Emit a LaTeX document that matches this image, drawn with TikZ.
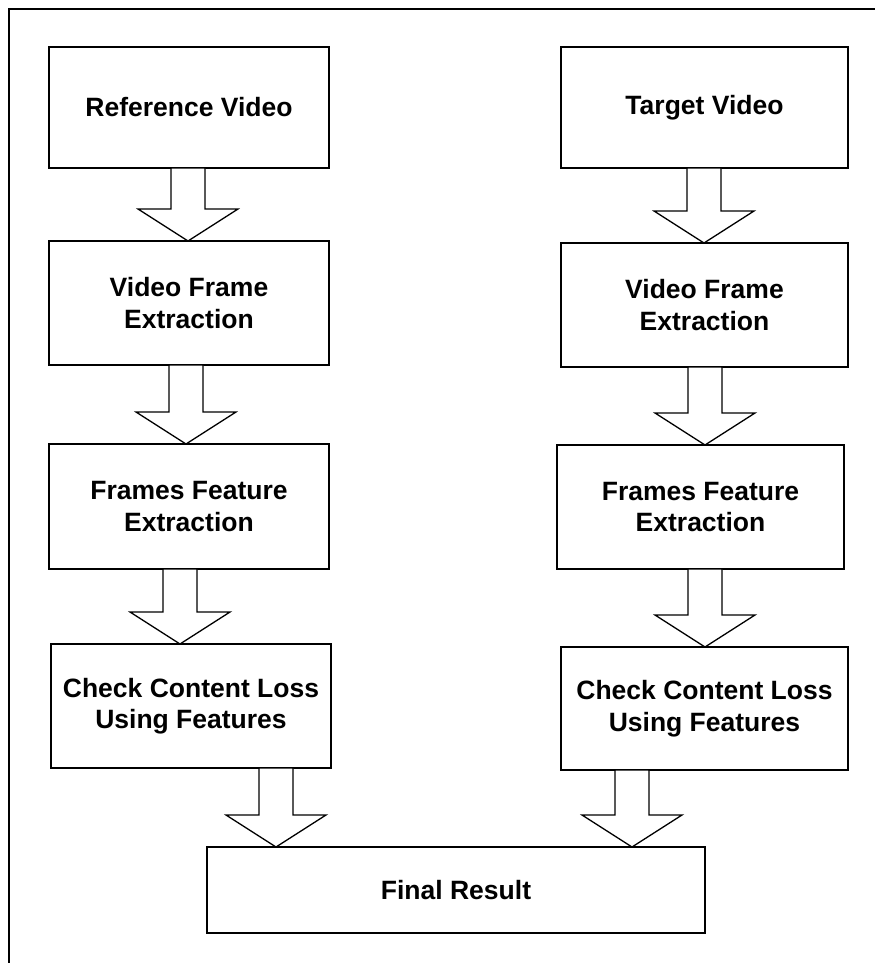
\documentclass[tikz,border=0pt]{standalone}
\usepackage{fontspec}
\setmainfont{Liberation Sans}
\usetikzlibrary{calc}

% block arrow: #1 source node, #2 target node, #3 x of the arrow axis
\newcommand{\blockarrow}[3]{%
  \draw[barrow] let \p1 = (#1.south), \p2 = (#2.north), \p3 = (#3,0) in
    (\x3-17pt,\y1) -- (\x3-17pt,\y2+32pt) -- (\x3-50pt,\y2+32pt) --
    (\x3,\y2) -- (\x3+50pt,\y2+32pt) -- (\x3+17pt,\y2+32pt) --
    (\x3+17pt,\y1) -- cycle;}

\tikzset{
  box/.style={draw, line width=1.3pt, inner sep=0pt, outer sep=0pt,
    align=center, font=\bfseries\fontsize{26.5}{31.5}\selectfont},
  barrow/.style={draw, fill=white, line width=1.3pt, line join=miter},
}

\begin{document}
\begin{tikzpicture}[x=1pt, y=1pt]
  \useasboundingbox (0,0) rectangle (875,-963);

  % frame, open at the right and bottom
  \draw[line width=1.3pt] (9,-963) -- (9,-9) -- (875,-9);

  % reference branch
  \node[box, minimum width=280pt, minimum height=121pt] (ref)  at (189,-107.5) {Reference Video};
  \node[box, minimum width=280pt, minimum height=124pt] (vfeL) at (189,-303)   {Video Frame\\Extraction};
  \node[box, minimum width=280pt, minimum height=125pt] (ffeL) at (189,-506.5) {Frames Feature\\Extraction};
  \node[box, minimum width=280pt, minimum height=124pt] (cclL) at (191,-706)   {Check Content Loss\\Using Features};

  % target branch
  \node[box, minimum width=287pt, minimum height=121pt] (tgt)  at (704.5,-107.5) {Target Video};
  \node[box, minimum width=287pt, minimum height=124pt] (vfeR) at (704.5,-305)   {Video Frame\\Extraction};
  \node[box, minimum width=287pt, minimum height=124pt] (ffeR) at (700.5,-507)   {Frames Feature\\Extraction};
  \node[box, minimum width=287pt, minimum height=123pt] (cclR) at (704.5,-708.5) {Check Content Loss\\Using Features};

  % result
  \node[box, minimum width=498pt, minimum height=86pt] (final) at (456,-890) {Final Result};

  % arrows
  \blockarrow{ref}{vfeL}{188}
  \blockarrow{vfeL}{ffeL}{186}
  \blockarrow{ffeL}{cclL}{180}
  \blockarrow{cclL}{final}{276}

  \blockarrow{tgt}{vfeR}{704}
  \blockarrow{vfeR}{ffeR}{705}
  \blockarrow{ffeR}{cclR}{705}
  \blockarrow{cclR}{final}{632}
\end{tikzpicture}
\end{document}
